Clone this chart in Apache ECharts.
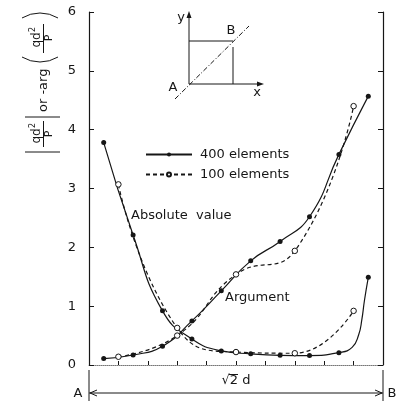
<!DOCTYPE html>
<html>
<head>
<meta charset="utf-8">
<script src="https://cdn.jsdelivr.net/npm/echarts@6/dist/echarts.min.js"></script>
<style>
  html, body { margin: 0; padding: 0; background: #fff; }
  #chart { width: 399px; height: 403px; }
</style>
</head>
<body>
<div id="chart"></div>
<script>
// Positions along the diagonal A-B (0 = A, 10 = B)
const fineX = [0.5, 1.5, 2.5, 3.5, 4.5, 5.5, 6.5, 7.5, 8.5, 9.5];   // 400-element mesh sample points
const coarseX = [1, 3, 5, 7, 9];                                      // 100-element mesh sample points

// |qd^2/P| and -arg(qd^2/P) along the diagonal
const abs400 = [3.78, 2.21, 0.92, 0.44, 0.24, 0.19, 0.165, 0.16, 0.21, 1.49];
const arg400 = [0.11, 0.17, 0.32, 0.75, 1.26, 1.77, 2.10, 2.52, 3.58, 4.57];
const abs100 = [3.07, 0.63, 0.22, 0.20, 0.92];
const arg100 = [0.14, 0.50, 1.54, 1.94, 4.40];

// Extra points on the steep end of the 400-element absolute-value curve (no marker)
const abs400TailX = [8.95, 9.17, 9.28, 9.37];
const abs400TailY = [0.30, 0.51, 0.77, 1.10];

const yTicks = [0, 1, 2, 3, 4, 5, 6];
const xTickCount = 10;

const INK = '#161616';
const FONT = 'DejaVu Sans';

function pairs(xs, ys) { return xs.map((x, i) => [x, ys[i]]); }

const abs400Data = pairs(fineX, abs400)
  .concat(pairs(abs400TailX, abs400TailY).map(p => ({ value: p, symbol: 'none' })))
  .sort((a, b) => (Array.isArray(a) ? a[0] : a.value[0]) - (Array.isArray(b) ? b[0] : b.value[0]));

const solid = {
  type: 'line', name: '400 elements', smooth: 0.5,
  symbol: 'circle', symbolSize: 5,
  itemStyle: { color: INK },
  lineStyle: { color: INK, width: 1.2 },
  z: 3
};
const dashed = {
  type: 'line', name: '100 elements', smooth: 0.5,
  symbol: 'circle', symbolSize: 5.5,
  itemStyle: { color: '#fff', borderColor: INK, borderWidth: 1 },
  lineStyle: { color: INK, width: 1.2, type: [4, 3] },
  z: 4
};

const chart = echarts.init(document.getElementById('chart'), null, { renderer: 'canvas' });

const yAxisBase = {
  type: 'value', min: yTicks[0], max: yTicks[yTicks.length - 1], interval: 1,
  axisLine: { show: true, lineStyle: { color: INK, width: 1.2 } },
  axisTick: { show: true, inside: true, length: 5, lineStyle: { color: INK, width: 1 } },
  splitLine: { show: false }
};

const legendBase = {
  left: 145, padding: 0, itemWidth: 46, itemHeight: 5, itemGap: 0,
  textStyle: { fontSize: 13, color: INK, fontFamily: FONT, padding: [0, 0, 0, 3] }
};

chart.setOption({
  animation: false,
  backgroundColor: '#fff',
  textStyle: { fontFamily: FONT },
  grid: { left: 89, right: 16, top: 12, bottom: 38, containLabel: false },
  xAxis: {
    type: 'value', min: 0, max: xTickCount, interval: 1,
    axisLine: { show: true, onZero: false, lineStyle: { color: '#777', width: 1, type: 'dotted' } },
    axisTick: { show: true, inside: true, length: 4, lineStyle: { color: INK, width: 1 } },
    axisLabel: { show: false },
    splitLine: { show: false }
  },
  yAxis: [
    Object.assign({}, yAxisBase, {
      position: 'left',
      axisLabel: { show: true, fontSize: 13, color: INK, fontFamily: FONT, margin: 13 }
    }),
    Object.assign({}, yAxisBase, { position: 'right', axisLabel: { show: false } })
  ],
  legend: [
    Object.assign({}, legendBase, { data: ['400 elements'], top: 148 }),
    Object.assign({}, legendBase, { data: ['100 elements'], top: 168 })
  ],
  series: [
    Object.assign({}, solid, { data: abs400Data }),
    Object.assign({}, solid, { data: pairs(fineX, arg400) }),
    Object.assign({}, dashed, { data: pairs(coarseX, abs100) }),
    Object.assign({}, dashed, { data: pairs(coarseX, arg100) })
  ]
});

// Dimension line A-B under the plot, aligned with the x axis ends
const pA = chart.convertToPixel({ xAxisIndex: 0, yAxisIndex: 0 }, [0, 0]);
const pB = chart.convertToPixel({ xAxisIndex: 0, yAxisIndex: 0 }, [xTickCount, 0]);
const xa = pA[0], xb = pB[0], y0 = pA[1];
const dimY = y0 + 28;

function line(x1, y1, x2, y2, extra) {
  return Object.assign({
    type: 'line', shape: { x1, y1, x2, y2 },
    style: { stroke: INK, lineWidth: 1 }, silent: true
  }, extra || {});
}
function text(t, x, y, size, extra) {
  return {
    type: 'text', x, y, silent: true,
    style: Object.assign({
      text: t, fill: INK, font: size + 'px "' + FONT + '"',
      textAlign: 'center', textVerticalAlign: 'middle'
    }, extra || {})
  };
}

const graphics = [
  // A-B dimension
  line(xa, y0 + 5, xa, 401),
  line(xb, y0 + 5, xb, 401),
  line(xa, dimY, xb, dimY),
  { type: 'polyline', silent: true, shape: { points: [[xa + 8, dimY - 3], [xa + 1, dimY], [xa + 8, dimY + 3]] }, style: { stroke: INK, lineWidth: 1, fill: null } },
  { type: 'polyline', silent: true, shape: { points: [[xb - 8, dimY - 3], [xb - 1, dimY], [xb - 8, dimY + 3]] }, style: { stroke: INK, lineWidth: 1, fill: null } },
  text('A', xa - 11, dimY + 1, 13),
  text('B', xb + 9, dimY + 1, 13),
  text('\u221A2 d', (xa + xb) / 2, y0 + 16, 13),
  line((xa + xb) / 2 - 7, y0 + 9.5, (xa + xb) / 2 + 2, y0 + 9.5),

  // Curve labels
  text('Absolute  value', 131, 216, 13, { textAlign: 'left' }),
  text('Argument', 225, 298, 13, { textAlign: 'left' }),

  // Inset: x-y axes with the diagonal A-B
  line(189, 84, 189, 14),
  { type: 'polygon', silent: true, shape: { points: [[189, 11], [186.5, 18], [191.5, 18]] }, style: { fill: INK } },
  line(189, 84, 261, 84),
  { type: 'polygon', silent: true, shape: { points: [[264, 84], [257, 81.5], [257, 86.5]] }, style: { fill: INK } },
  line(189, 41, 233, 41),
  line(233, 47, 233, 84),
  line(175, 99, 249, 26, { style: { stroke: INK, lineWidth: 1, lineDash: [5, 2, 1, 2] } }),
  text('y', 181, 18, 13),
  text('x', 257, 93, 13),
  text('A', 173, 88, 13),
  text('B', 231, 31, 13),

  // Rotated y-axis title: |qd²/P| or -arg(qd²/P)
  {
    type: 'group', x: 43, y: 152, rotation: Math.PI / 2, silent: true,
    children: [
      line(0, -18, 0, 17),
      text('qd', 16, -6, 12),
      text('2', 26.5, -10.5, 8),
      line(5, 0.5, 31, 0.5),
      text('P', 18, 6.5, 11),
      line(35, -18, 35, 17),
      text('or -arg', 40, 1, 13, { textAlign: 'left' }),
      { type: 'arc', shape: { cx: 125, cy: -3, r: 35, startAngle: Math.PI - 0.54, endAngle: Math.PI + 0.54 }, style: { stroke: INK, lineWidth: 1, fill: null } },
      text('qd', 112, -6, 12),
      text('2', 122.5, -10.5, 8),
      line(99, 0.5, 128, 0.5),
      text('P', 114, 6.5, 11),
      { type: 'arc', shape: { cx: 104, cy: -3, r: 35, startAngle: -0.54, endAngle: 0.54 }, style: { stroke: INK, lineWidth: 1, fill: null } }
    ]
  }
];

chart.setOption({ graphic: { elements: graphics } });
</script>
</body>
</html>
